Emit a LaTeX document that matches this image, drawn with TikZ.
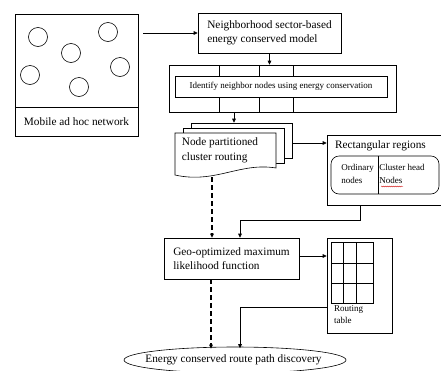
\documentclass[tikz,border=0pt]{standalone}
\usepackage{fontspec}
\setmainfont{Liberation Serif}
\usetikzlibrary{arrows.meta,shapes.geometric,calc,decorations.pathmorphing}
\begin{document}
\begin{tikzpicture}[x=1pt,y=-1pt,
  box/.style={draw,line width=0.6pt,inner sep=0pt},
  txt/.style={font=\fontsize{11.3}{14.5}\selectfont,align=left,inner sep=0pt},
  small/.style={font=\fontsize{9}{13}\selectfont,align=left,inner sep=0pt},
  tiny/.style={font=\fontsize{9}{12}\selectfont,align=left,inner sep=0pt},
  arr/.style={-{Triangle[length=4pt,width=3.6pt]},line width=0.6pt},
  darr/.style={-{Triangle[length=4pt,width=3.6pt]},line width=1.2pt,dash pattern=on 5pt off 3pt},
  thin/.style={line width=0.6pt}]
\useasboundingbox (0,0) rectangle (441,370);
\clip (0,0) rectangle (441,370);

% Mobile ad hoc network
\node[box,minimum width=123pt,minimum height=122pt] (mob) at (76.5,75) {};
\draw[thin] (15,107) -- (138,107);
\node[txt] (mobl) at (76.5,122) {Mobile ad hoc network};
\foreach \cx/\cy in {38/37,108/32,71/53,120/67,30/75,79/87}
  \draw[thin] (\cx,\cy) circle[radius=9.5pt];

% Neighborhood model
\node[box,txt,minimum width=143pt,minimum height=40pt] (nb) at (269.5,33) {Neighborhood sector-based\\energy conserved model};
\draw[arr] ($(mob.east |- nb.west)+(5,0)$) -- (nb.west);

% Identify
\node[box,minimum width=227pt,minimum height=47pt] (ido) at (282.5,88.5) {};
\node[box,small,minimum width=212pt,minimum height=21pt] (idi) at (281,86.5) {Identify neighbor nodes using energy conservation};
\foreach \vx in {219,259,293}
  \draw[thin] (\vx,65) -- (\vx,76) (\vx,97) -- (\vx,112);
\draw[arr] (nb.south) -- (nb.south |- ido.north);

% Node partitioned cluster routing (multi-document)
\node[box,fill=white,minimum width=101pt,minimum height=35pt] (d3) at (241.5,140.5) {};
\node[box,fill=white,minimum width=101pt,minimum height=35pt] (d2) at (233.5,145.5) {};
\draw[thin,fill=white] (175,133) -- (276,133) -- (276,168)
  .. controls (240,162) and (215,184) .. (175,175) -- cycle;
\node[txt] (npc) at (220,150.5) {Node partitioned\\cluster routing};
\coordinate (a0) at ($(ido.south)+(-48.5,0)$);
\draw[arr] (a0) -- (a0 |- d3.north);

% Rectangular regions
\node[box,minimum width=133pt,minimum height=70pt] (rr) at (393.5,170) {};
\coordinate (a1) at ($(d3.east)+(0,2.5)$);
\draw[arr] (a1) -- (a1 -| rr.west);
\node[txt] (rrt) at (380.5,146) {Rectangular regions};
\node[box,rounded corners=8pt,minimum width=108pt,minimum height=38pt] (rri) at (385,175) {};
\draw[thin] (378,156) -- (378,194);
\node[small] (ord) at (357.5,173.5) {Ordinary\\nodes};
\node[small] (chn) at (402,173.5) {Cluster head\\Nodes};
\draw[red!80!black,line width=0.25pt,decorate,decoration={snake,amplitude=0.5pt,segment length=2pt}] (381,186.5) -- (403,186.5);

% Geo-optimized
\node[box,txt,minimum width=135pt,minimum height=41pt] (geo) at (231.5,258.5) {Geo-optimized maximum\\likelihood function};
\coordinate (c1) at ($(rr.south)+(-33.5,0)$);
\coordinate (c2) at ($(geo.north)+(8.5,0)$);
\draw[arr] (c1) -- (c1 |- 0,220) -| (c2);
\coordinate (c3) at ($(geo.north)+(-19.5,0)$);
\draw[darr] (c3 |- 0,177) -- (c3);

% Routing table
\node[box,minimum width=65pt,minimum height=95pt] (rt) at (359.5,285.5) {};
\draw[thin] (331,242) rectangle (373,303);
\draw[thin] (343,242) -- (343,303) (356,242) -- (356,303)
  (331,263) -- (373,263) (331,283) -- (373,283);
\node[tiny,anchor=west] (rtl) at (334,315) {Routing\\table};
\coordinate (a2) at ($(geo.east)+(0,-2.5)$);
\draw[arr] (a2) -- (a2 -| rt.west);

% Final ellipse
\node[draw,thin,ellipse,inner sep=0pt,minimum width=222pt,minimum height=26pt] (ell) at (235,360) {};
\node[txt] (ellt) at (233.5,360) {Energy conserved route path discovery};
\coordinate (c4) at ($(rt.west)+(0,21.5)$);
\draw[arr] (c4) -| ($(ell.north)+(5,1.5)$);
\coordinate (c5) at ($(geo.south)+(-20.5,0)$);
\draw[darr] (c5) -- ($(c5 |- ell.north)+(0,2)$);
\end{tikzpicture}
\end{document}
